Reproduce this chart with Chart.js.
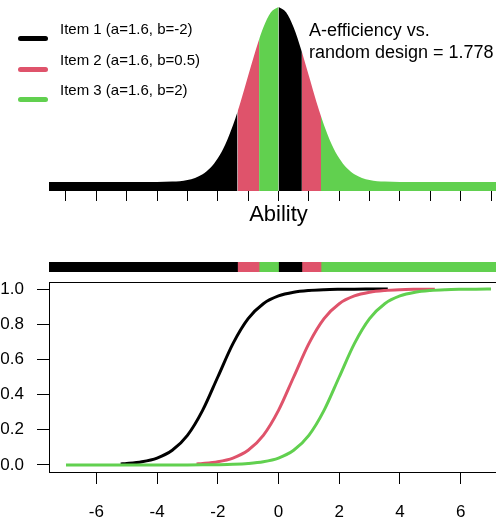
<!DOCTYPE html>
<html lang="en">
<head>
<meta charset="UTF-8">
<title>Optimal item design by ability</title>
<script src="https://cdn.jsdelivr.net/npm/chart.js@4.4.1/dist/chart.umd.min.js"></script>
<style>
    html, body {margin: 0; padding: 0; width: 496px; height: 520px; overflow: hidden; background: #fff;}
    * {font-family: "Liberation Sans", Arial, sans-serif; color: #000;}
    .box {position: absolute;}
    .swatch {position: absolute; width: 30px; height: 5px; border-radius: 3px;}
    .label {position: absolute; font-size: 15px; line-height: 18px; white-space: nowrap;}
    #note {position: absolute; left: 309px; top: 19px; font-size: 18px; line-height: 22px; white-space: nowrap;}
</style>
</head>
<body>
<div class="box" style="left:49px;top:0;width:459px;height:228px"><canvas id="density"></canvas></div>
<div class="box" style="left:49px;top:262px;width:459px;height:10px"><canvas id="strip"></canvas></div>
<div class="box" style="left:0;top:272px;width:508px;height:248px"><canvas id="icc"></canvas></div>
<div id="legend"></div>
<div id="note">A-efficiency vs.<br>random design = 1.778</div>
<script>
// items and colours
const itemLabels = ['Item 1 (a=1.6, b=-2)', 'Item 2 (a=1.6, b=0.5)', 'Item 3 (a=1.6, b=2)'];
const itemColors = ['#000000', '#DF536B', '#61D04F'];

// ability axis range and which item is used on each ability interval
const abilityMin = -7.56, abilityMax = 7.56;
const designBreaks = [-7.56, -1.35, -0.64, 0, 0.77, 1.40, 7.56];
const designItems = [0, 1, 2, 0, 1, 2];

// ability density (top panel)
const densityAbility = [-7.56, -4, -3.5, -3.25, -3, -2.75, -2.5, -2.25, -2, -1.75, -1.5, -1.35, -1.25, -1, -0.75, -0.64, -0.5, -0.25,
    0, 0.25, 0.5, 0.75, 0.77, 1, 1.25, 1.4, 1.5, 1.75, 2, 2.25, 2.5, 2.75, 3, 3.25, 3.5, 4, 7.56];
const densityValue = [0, 0.0001, 0.0009, 0.0020, 0.0044, 0.0091, 0.0175, 0.0317, 0.0540, 0.0863, 0.1295, 0.1604, 0.1826, 0.2420, 0.3011, 0.3251, 0.3521, 0.3867,
    0.3989, 0.3867, 0.3521, 0.3011, 0.2966, 0.2420, 0.1826, 0.1497, 0.1295, 0.0863, 0.0540, 0.0317, 0.0175, 0.0091, 0.0044, 0.0020, 0.0009, 0.0001, 0];

// item characteristic curves (bottom panel)
const item1Ability = [-5.2, -5, -4.5, -4, -3.5, -3, -2.5, -2, -1.5, -1, -0.5, 0, 0.5, 1, 1.5, 2, 2.5, 3, 3.6];
const item1Prob = [0.0059, 0.0082, 0.0180, 0.0392, 0.0832, 0.1680, 0.3100, 0.5, 0.6900, 0.8320, 0.9168, 0.9608, 0.9820, 0.9918, 0.9963, 0.9983, 0.9993, 0.9997, 0.9999];
const item2Ability = [-2.7, -2.5, -2, -1.5, -1, -0.5, 0, 0.5, 1, 1.5, 2, 2.5, 3, 3.5, 4, 4.5, 5, 5.15];
const item2Prob = [0.0059, 0.0082, 0.0180, 0.0392, 0.0832, 0.1680, 0.3100, 0.5, 0.6900, 0.8320, 0.9168, 0.9608, 0.9820, 0.9918, 0.9963, 0.9983, 0.9993, 0.9995];
const item3Ability = [-7, -6, -5, -4, -3, -2.5, -2, -1.5, -1, -0.5, 0, 0.5, 1, 1.5, 2, 2.5, 3, 3.5, 4, 4.5, 5, 5.5, 6, 6.5, 7];
const item3Prob = [0, 0, 0, 0.0001, 0.0003, 0.0007, 0.0017, 0.0037, 0.0082, 0.0180, 0.0392, 0.0832, 0.1680, 0.3100, 0.5, 0.6900, 0.8320, 0.9168, 0.9608, 0.9820, 0.9918, 0.9963, 0.9983, 0.9993, 0.9997];

const yTickValues = [0, 0.2, 0.4, 0.6, 0.8, 1.0];
const xTickStep = 2;

Chart.defaults.font.family = '"Liberation Sans", Arial, sans-serif';
Chart.defaults.color = '#000';
Chart.defaults.animation = false;
Chart.defaults.maintainAspectRatio = false;
Chart.defaults.plugins.legend.display = false;
Chart.defaults.plugins.tooltip.enabled = false;

// html legend
const legend = document.getElementById('legend');
itemLabels.forEach((text, i) => {
    const sw = document.createElement('div');
    sw.className = 'swatch';
    sw.style.left = '18px';
    sw.style.top = (36 + i * 30.5) + 'px';
    sw.style.background = itemColors[i];
    legend.appendChild(sw);
    const lb = document.createElement('div');
    lb.className = 'label';
    lb.style.left = '60px';
    lb.style.top = (20 + i * 30.5) + 'px';
    lb.textContent = text;
    legend.appendChild(lb);
});

// split the density into the design segments
const segments = designItems.map((item, i) => {
    const lo = designBreaks[i], hi = designBreaks[i + 1];
    const pts = [];
    densityAbility.forEach((x, k) => {
        if (x >= lo && x <= hi) pts.push({x: x, y: densityValue[k]});
    });
    return {lo, hi, item, pts};
});

new Chart('density', {
    type: 'line',
    data: {
        datasets: segments.map(s => ({
            data: s.pts,
            backgroundColor: itemColors[s.item],
            borderColor: itemColors[s.item],
            borderWidth: 0,
            pointRadius: 0,
            fill: 'start',
            cubicInterpolationMode: 'monotone'
        }))
    },
    options: {
        layout: {padding: 0},
        scales: {
            x: {
                type: 'linear', min: abilityMin, max: abilityMax,
                border: {display: false},
                grid: {drawOnChartArea: false, tickLength: 10, color: '#000'},
                ticks: {display: false, stepSize: 1, includeBounds: false},
                title: {display: true, text: 'Ability', font: {size: 22}, color: '#000', padding: {top: 2, bottom: 0}},
                afterFit: s => { s.height = 37; s.paddingLeft = 0; s.paddingRight = 0; }
            },
            y: {display: false, min: -0.0205, max: 0.4149}
        }
    }
});

new Chart('strip', {
    type: 'bar',
    data: {
        labels: ['design'],
        datasets: segments.map(s => ({
            data: [[s.lo, s.hi]],
            backgroundColor: itemColors[s.item],
            borderWidth: 0,
            barPercentage: 1,
            categoryPercentage: 1,
            grouped: false
        }))
    },
    options: {
        indexAxis: 'y',
        layout: {padding: 0},
        scales: {
            x: {display: false, min: abilityMin, max: abilityMax},
            y: {display: false}
        }
    }
});

const curves = [[item1Ability, item1Prob], [item2Ability, item2Prob], [item3Ability, item3Prob]];

new Chart('icc', {
    type: 'line',
    data: {
        datasets: curves.map((c, i) => ({
            label: itemLabels[i],
            data: c[0].map((x, k) => ({x: x, y: c[1][k]})),
            borderColor: itemColors[i],
            borderWidth: 3,
            pointRadius: 0,
            fill: false,
            cubicInterpolationMode: 'monotone',
            order: 3 - i
        }))
    },
    options: {
        layout: {padding: {top: 10, left: 0, right: 0, bottom: 0}},
        scales: {
            x: {
                type: 'linear', position: 'bottom', min: abilityMin, max: abilityMax,
                border: {display: true, color: '#000', width: 1},
                grid: {drawOnChartArea: false, tickLength: 12, color: '#000'},
                ticks: {stepSize: xTickStep, includeBounds: false, font: {size: 17}, padding: 18, maxRotation: 0},
                afterFit: s => { s.height = 48; s.paddingLeft = 0; s.paddingRight = 0; }
            },
            x2: {
                type: 'linear', position: 'top', min: abilityMin, max: abilityMax,
                border: {display: true, color: '#000', width: 1},
                grid: {display: false, drawTicks: false},
                ticks: {display: false},
                afterFit: s => { s.height = 0; s.paddingLeft = 0; s.paddingRight = 0; }
            },
            y: {
                min: -0.04, max: 1.04,
                border: {display: true, color: '#000', width: 1},
                grid: {drawOnChartArea: false, tickLength: 12, color: '#000'},
                afterBuildTicks: s => { s.ticks = yTickValues.map(v => ({value: v})); },
                ticks: {font: {size: 17}, padding: 13, callback: v => v.toFixed(1)},
                afterFit: s => { s.width = 49; s.paddingTop = 0; s.paddingBottom = 0; }
            }
        }
    }
});
</script>
</body>
</html>
